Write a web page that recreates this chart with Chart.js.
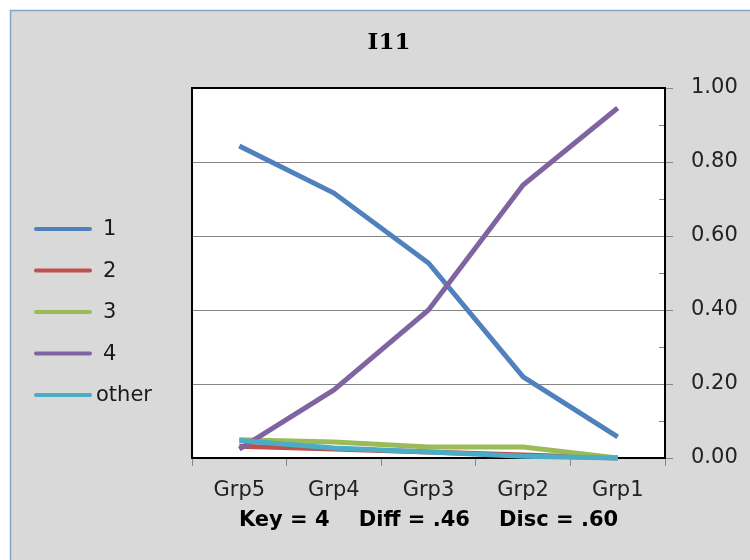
<!DOCTYPE html>
<html>
<head>
<meta charset="utf-8">
<script src="https://cdn.jsdelivr.net/npm/chart.js@4.4.1/dist/chart.umd.min.js"></script>
<style>
  html, body { margin: 0; padding: 0; background: #fff; }
  #wrap { width: 750px; height: 560px; }
</style>
</head>
<body>
<div id="wrap"><canvas id="c" width="750" height="560"></canvas></div>
<script>
// data
const groups = ["Grp5", "Grp4", "Grp3", "Grp2", "Grp1"];
const opt1 = [0.843, 0.716, 0.527, 0.219, 0.057];
const opt2 = [0.032, 0.024, 0.016, 0.008, 0.0];
const opt3 = [0.049, 0.043, 0.030, 0.030, 0.0];
const opt4 = [0.024, 0.184, 0.400, 0.738, 0.946];
const optOther = [0.047, 0.027, 0.016, 0.005, 0.0];
const seriesNames = ["1", "2", "3", "4", "other"];
const seriesColors = ["#4F81BD", "#C0504D", "#9BBB59", "#8064A2", "#4BACC6"];
const titleText = "I11";
const footerText = "Key = 4    Diff = .46    Disc = .60";

const FONT = "'DejaVu Sans', Verdana, sans-serif";
const seriesValues = [opt1, opt2, opt3, opt4, optOther];

// frame, white plot area, minor ticks, title, legend, footer
const decor = {
  id: "decor",
  beforeDraw(chart) {
    const ctx = chart.ctx;
    const a = chart.chartArea;
    ctx.save();
    ctx.fillStyle = "#ffffff";
    ctx.fillRect(0, 0, chart.width, chart.height);
    ctx.fillStyle = "#d9d9d9";
    ctx.fillRect(10, 10, chart.width, chart.height);
    ctx.strokeStyle = "#86a3c9";
    ctx.lineWidth = 1.5;
    ctx.strokeRect(10.5, 10.5, chart.width + 10, chart.height + 10);
    ctx.fillStyle = "#ffffff";
    ctx.fillRect(a.left, a.top, a.right - a.left, a.bottom - a.top);
    ctx.restore();
  },
  beforeDatasetsDraw(chart) {
    const ctx = chart.ctx;
    const a = chart.chartArea;
    const y = chart.scales.y;
    ctx.save();
    // minor ticks inside the right edge
    ctx.strokeStyle = "#868686";
    ctx.lineWidth = 1;
    for (let v = 0.1; v < 1; v += 0.2) {
      const py = Math.round(y.getPixelForValue(v)) + 0.5;
      ctx.beginPath();
      ctx.moveTo(a.right - 6, py);
      ctx.lineTo(a.right, py);
      ctx.stroke();
    }
    ctx.strokeStyle = "#000000";
    ctx.lineWidth = 2;
    ctx.strokeRect(a.left, a.top, a.right - a.left, a.bottom - a.top);
    ctx.restore();
  },
  afterDraw(chart) {
    const ctx = chart.ctx;
    const a = chart.chartArea;
    ctx.save();
    ctx.fillStyle = "#000000";
    ctx.textAlign = "center";
    ctx.textBaseline = "middle";
    ctx.font = "bold 23px 'DejaVu Serif', serif";
    ctx.fillText(titleText, 389, 43);

    ctx.font = "bold 21px " + FONT;
    ctx.fillText(footerText, (a.left + a.right) / 2, 521);

    // legend on the left
    ctx.lineCap = "round";
    ctx.lineWidth = 4;
    ctx.font = "21px " + FONT;
    ctx.textAlign = "left";
    chart.data.datasets.forEach((ds, i) => {
      const ly = 229 + i * 41.5;
      ctx.strokeStyle = ds.borderColor;
      ctx.beginPath();
      ctx.moveTo(36, ly);
      ctx.lineTo(90, ly);
      ctx.stroke();
      ctx.fillStyle = "#1a1a1a";
      ctx.fillText(ds.label, ds.label.length > 1 ? 96 : 103, ly + 1);
    });
    ctx.restore();
  }
};

const datasets = seriesNames.map((name, i) => ({
  label: name,
  data: seriesValues[i],
  borderColor: seriesColors[i],
  backgroundColor: seriesColors[i],
  borderWidth: 5,
  pointRadius: 0,
  tension: 0,
  fill: false,
  clip: false
}));
// draw so that "other" and "1" sit on top like the reference
datasets.forEach((ds, i) => { ds.order = seriesNames.length - i; });

new Chart(document.getElementById("c"), {
  type: "line",
  data: { labels: groups, datasets },
  options: {
    responsive: false,
    animation: false,
    layout: { padding: { left: 192, top: 88, right: 0, bottom: 0 } },
    plugins: {
      legend: { display: false },
      title: { display: false },
      tooltip: { enabled: false }
    },
    scales: {
      x: {
        offset: true,
        grid: {
          offset: true,
          drawOnChartArea: false,
          drawTicks: true,
          tickLength: 8,
          color: "#868686"
        },
        border: { display: false },
        ticks: {
          color: "#222222",
          font: { family: FONT, size: 21 },
          padding: 12,
          maxRotation: 0
        },
        afterFit(scale) { scale.height = 102; }
      },
      y: {
        position: "right",
        min: 0,
        max: 1,
        grid: {
          color: "#868686",
          tickLength: 8
        },
        border: { display: false },
        ticks: {
          stepSize: 0.2,
          color: "#222222",
          font: { family: FONT, size: 21 },
          padding: 18,
          callback: (v) => v.toFixed(2)
        },
        afterFit(scale) { scale.width = 85; }
      }
    }
  },
  plugins: [decor]
});
</script>
</body>
</html>
